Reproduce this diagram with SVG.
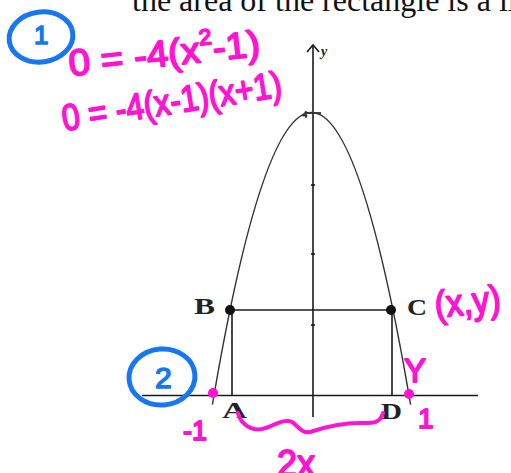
<svg xmlns="http://www.w3.org/2000/svg" width="511" height="473" viewBox="0 0 511 473">
<style>
.ax{stroke:#1a1a1a;stroke-width:1.6;fill:none}
.cv{stroke:#333;stroke-width:1.4;fill:none}
.lbl{font-family:"Liberation Serif",serif;font-weight:bold;fill:#222}
.pk{font-family:"Liberation Sans",sans-serif;fill:#ff14d2;stroke:#ff14d2;stroke-width:1.8;stroke-linejoin:round}
.pkl{stroke:#ff14d2;stroke-width:4;fill:none;stroke-linecap:round;stroke-linejoin:round}
.bl{stroke:#1677ee;stroke-width:5;fill:none}
.blt{font-family:"Liberation Sans",sans-serif;fill:#1677ee;stroke:#1677ee;stroke-width:1.5}
</style>
<rect width="511" height="473" fill="#fff"/>
<text id="header" x="132" y="11" font-family="Liberation Serif,serif" font-size="32" fill="#111">the area of the rectangle is a li</text>

<g id="axes">
<line class="ax" x1="142" y1="395.5" x2="478" y2="395.5"/>
<line class="ax" x1="313" y1="45" x2="313" y2="417"/>
<polyline class="ax" points="307,52 313,45 319,52"/>
<line class="ax" x1="311" y1="185" x2="315" y2="185"/>
<line class="ax" x1="311" y1="254" x2="315" y2="254"/>
<line class="ax" x1="311" y1="325" x2="315" y2="325"/>
<line class="ax" x1="305" y1="113" x2="321" y2="113"/>
<text x="321" y="56" font-family="Liberation Serif,serif" font-style="italic" font-weight="bold" font-size="14" fill="#222">y</text>
<text x="302" y="118" font-family="Liberation Serif,serif" font-weight="bold" font-size="11" fill="#222">4</text>
</g>

<g id="parabola">
<path class="cv" d="M212.4,404.6 Q311.5,-179.6 410.6,404.6"/>
</g>

<g id="rectangle">
<line class="ax" x1="230" y1="310" x2="391" y2="310"/>
<line class="ax" x1="232" y1="310" x2="232" y2="395.5"/>
<line class="ax" x1="392" y1="310" x2="392" y2="395.5"/>
<circle cx="230" cy="310" r="5" fill="#111"/>
<circle cx="391" cy="310" r="5" fill="#111"/>
<text class="lbl" x="194" y="314" font-size="23" textLength="21" lengthAdjust="spacingAndGlyphs">B</text>
<text class="lbl" x="407" y="315" font-size="23" textLength="20" lengthAdjust="spacingAndGlyphs">C</text>
<text class="lbl" x="222" y="418" font-size="23" textLength="25" lengthAdjust="spacingAndGlyphs">A</text>
<text class="lbl" x="381" y="419" font-size="23" textLength="21" lengthAdjust="spacingAndGlyphs">D</text>
</g>

<g id="annotation1">
<ellipse class="bl" cx="41" cy="37" rx="32" ry="25" transform="rotate(-8 41 37)"/>
<text class="blt" x="34" y="44" font-size="26">1</text>
<text class="pk" x="70" y="76" font-size="37" transform="rotate(-6 70 76)" textLength="192" lengthAdjust="spacingAndGlyphs">0 = -4(x<tspan font-size="22" dy="-17">2</tspan><tspan dy="17">-1)</tspan></text>
<text class="pk" x="64" y="131" font-size="37" transform="rotate(-9 64 131)" textLength="222" lengthAdjust="spacingAndGlyphs">0 = -4(x-1)(x+1)</text>
</g>

<g id="annotation2">
<ellipse class="bl" cx="162" cy="377" rx="33" ry="28" transform="rotate(-5 162 377)"/>
<text class="blt" x="155" y="388" font-size="30">2</text>
<circle cx="213" cy="393" r="5" fill="#ff14d2"/>
<circle cx="409" cy="394" r="5" fill="#ff14d2"/>
<text class="pk" x="183" y="440" font-size="27">-1</text>
<text class="pk" x="418" y="428" font-size="28">1</text>
<text class="pk" x="404" y="382" font-size="33">Y</text>
<text class="pk" x="436" y="318" font-size="38" transform="rotate(-6 436 318)" textLength="66" lengthAdjust="spacingAndGlyphs">(x,y)</text>
<path class="pkl" d="M238,413 C241,425 252,431 262,429 C274,426 283,418 292,422 C298,426 302,434 310,432 C322,428 340,423 360,423 C372,423 380,424 383,413"/>
<text class="pk" x="277" y="476" font-size="36">2x</text>
</g>
</svg>
